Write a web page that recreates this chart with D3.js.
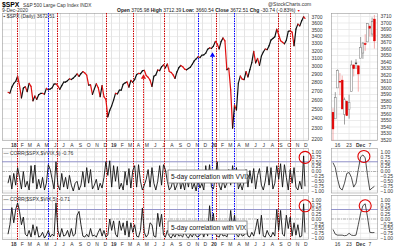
<!DOCTYPE html>
<html>
<head>
<meta charset="utf-8">
<script src="https://cdn.jsdelivr.net/npm/d3@7"></script>
<style>
  body { margin: 0; background: #fff; }
  svg { display: block; font-family: "Liberation Sans", Arial, sans-serif; }
</style>
</head>
<body>
<svg id="chart" width="400" height="249"></svg>
<script>
// ---- data ----
var weekStart = "2017-12-22";
var lastDate = "2020-12-09";

// weekly closes of $SPX, one per Friday from weekStart, last point is 9-Dec-2020
var spxWeekly = [
  2683, 2674,
  2743, 2786, 2810, 2873, 2762, 2620, 2732, 2747, 2691, 2786, 2752, 2588, 2641, 2604, 2656, 2670, 2670, 2663,
  2728, 2713, 2721, 2735, 2779, 2780, 2755, 2718, 2760, 2801, 2802, 2819, 2840, 2833, 2850, 2875, 2902, 2872,
  2905, 2930, 2914, 2886, 2767, 2768, 2659, 2723, 2781, 2736, 2633, 2760, 2633, 2600, 2417, 2486,
  2532, 2596, 2671, 2665, 2707, 2708, 2776, 2793, 2804, 2743, 2822, 2800, 2834, 2893, 2907, 2905, 2940, 2946,
  2881, 2860, 2826, 2752, 2873, 2887, 2950, 2942, 2990, 3014, 2977, 3026, 2932, 2919, 2889, 2847, 2926, 2979,
  3007, 2992, 2962, 2952, 2970, 2986, 3023, 3067, 3093, 3120, 3110, 3141, 3146, 3169, 3221, 3240,
  3235, 3265, 3330, 3295, 3226, 3328, 3380, 3338, 2954, 2972, 2711, 2305, 2541, 2489, 2790, 2875, 2837, 2831,
  2930, 2864, 2955, 3044, 3194, 3041, 3098, 3009, 3130, 3185, 3225, 3216, 3271, 3351, 3373, 3397, 3508, 3427,
  3341, 3319, 3298, 3348, 3477, 3484, 3465, 3270, 3510, 3585, 3558, 3638, 3699,
  3673
];

var corrVvixWeekly = [
  -0.6, -0.2, -0.9, -0.1, -0.7, 0.2, -0.3, -0.9, 0.0, -0.8, -0.5, -0.95, 0.3, -0.6, 0.33, -0.9, -0.4, -0.85, -0.3, -0.95,
  -0.6, 0.35, 0.1, -0.4, -0.9, 0.5, -0.7, -0.95, -0.1, -0.8, -0.3, -0.9, -0.2, -0.7, -1.0, -0.6, -0.5, -0.95, -0.7, 0.0,
  -0.8, 0.2, -0.6, 0.1, -0.9, -0.7, -0.4, -0.95, -0.6, -0.85, -0.3, 0.5, -0.2, 0.55, -0.8, 0.3, -0.5, 0.25, -0.9, -0.6,
  -0.95, 0.0, -0.7, 0.15, -0.85, 0.05, 0.3, -0.8, 0.35, -0.5, -0.95, -0.7, -0.4, 0.1, -0.8, 0.2, -0.6, -0.95, -0.5, 0.3,
  -0.7, 0.35, 0.1, -0.5, -0.95, -0.8, -0.4, -0.95, -0.7, -0.2, -0.9, -0.5, -0.95, -0.3, -0.8, -0.1, -0.9, -0.6, -1.0, -0.4,
  -0.85, -0.6, -0.95, 0.3, -0.5, 0.35, -0.8, -0.9, -0.3, 0.5, -0.7, -0.95, -0.4, -0.85, -0.6, 0.1, -0.7, 0.3, -0.5, 0.2,
  -0.9, -0.6, -0.95, -0.5, 0.1, -0.8, 0.05, -0.6, 0.15, -0.9, -0.2, 0.15, -0.7, -0.95, -0.5, 0.25, -0.7, 0.2, -0.9, -0.6,
  0.3, -0.4, 0.4, -0.8, 0.35, -0.3, -0.95, 0.1, -0.6, 0.2, -0.8, -0.95, -0.5, -0.9, 0.8, -0.76
];

var corrVixWeekly = [
  -0.8, -0.3, 0.6, -0.2, 0.5, 0.85, 0.4, -0.3, 0.1, -0.8, -0.9, -0.6, -0.95, -0.3, -0.85, -0.4, -0.95, -0.9, -0.7, -1.0,
  -0.85, -0.6, -0.95, -0.8, -0.9, 0.85, -0.6, -0.95, -0.5, -0.9, -0.85, -0.6, -0.95, -0.5, -0.9, -0.8, 0.2, 0.4, -0.3, -0.9,
  -0.95, -0.8, -0.95, -0.5, -0.9, -0.85, -0.95, -0.7, -0.5, -0.9, -0.6, -0.95, -0.85, 0.0, -0.6, -0.1, -0.8, -0.95, -0.1, -0.6,
  -0.2, -0.85, -0.1, -0.95, -0.2, -0.7, -0.3, -0.9, -0.95, -0.6, 0.58, -0.7, -0.95, -0.8, -0.2, -0.3, -0.9, -0.95, 0.3, -0.4,
  0.25, -0.85, -0.95, -0.6, -0.9, -1.0, -0.8, -0.95, -0.7, -0.9, -0.85, -0.95, -0.6, -0.9, -1.0, -0.8, -0.95, -0.7, -0.9, -0.95,
  -0.85, -0.6, -0.95, -0.5, -0.9, 0.7, -0.4, 0.3, -0.8, -0.9, -0.95, -0.7, -0.9, -0.85, -0.95, -0.6, 0.45, -0.5, 0.2, -0.8,
  -0.95, -0.7, -0.9, -0.85, -0.4, -0.9, -0.95, -0.7, -0.9, -0.5, 0.0, -0.8, 0.2, -0.9, -0.95, -0.6, -0.85, -0.95, -0.7, -0.9,
  0.5, -0.6, 0.45, -0.8, -0.9, 0.2, -0.5, 0.1, -0.9, -0.2, -0.85, -0.3, -0.95, -0.9, 0.8, -0.71
];

// daily candles of the small right hand panel
var dayDates = ["2020-11-12", "2020-11-13", "2020-11-16", "2020-11-17", "2020-11-18", "2020-11-19", "2020-11-20",
  "2020-11-23", "2020-11-24", "2020-11-25", "2020-11-27", "2020-11-30", "2020-12-01", "2020-12-02", "2020-12-03",
  "2020-12-04", "2020-12-07", "2020-12-08", "2020-12-09"];
var dayOpen  = [3562.67, 3552.57, 3600.16, 3610.31, 3612.09, 3559.41, 3579.31, 3566.82, 3594.52, 3635.50, 3638.55,
  3634.18, 3645.87, 3653.78, 3668.28, 3670.94, 3694.73, 3683.05, 3705.98];
var dayHigh  = [3569.02, 3593.66, 3628.51, 3623.11, 3619.09, 3585.22, 3581.23, 3589.81, 3642.31, 3635.50, 3644.31,
  3634.18, 3678.45, 3670.96, 3682.73, 3699.20, 3697.41, 3708.45, 3712.39];
var dayLow   = [3518.58, 3552.57, 3600.16, 3588.68, 3567.33, 3543.84, 3556.85, 3552.77, 3594.52, 3617.76, 3629.33,
  3594.39, 3645.87, 3644.84, 3657.17, 3670.94, 3678.88, 3678.83, 3660.54];
var dayClose = [3537.01, 3585.15, 3626.91, 3609.53, 3567.79, 3581.87, 3557.54, 3577.59, 3635.41, 3629.65, 3638.35,
  3621.63, 3662.45, 3669.01, 3666.72, 3699.12, 3691.96, 3702.25, 3672.51];
var corrVvixDaily = [0.45, 0.2, -0.4, -0.85, -0.95, -0.6, -0.1, -0.05, -0.3, -0.8, -0.6, 0.1, 0.75, 0.85, 0.7, -0.2, -0.95, -0.85, -0.76];
var corrVixDaily  = [-0.55, -0.8, -0.85, -0.85, -0.85, -0.88, -0.86, -0.75, -0.85, -0.87, -0.85, -0.3, 0.3, 0.7, 0.8, 0.1, -0.7, -0.72, -0.71];

var priceTicks = [3700, 3600, 3500, 3400, 3300, 3200, 3100, 3000, 2900, 2800, 2700, 2600, 2500, 2400, 2300, 2200];
var dayPriceTicks = [3710, 3700, 3690, 3680, 3670, 3660, 3650, 3640, 3630, 3620, 3610, 3600, 3590, 3580, 3570,
  3560, 3550, 3540, 3530, 3520];
var corrTicks = [1, 0.75, 0.5, 0.25, 0, -0.25, -0.5, -0.75, -1];
var monthLetters = ["J", "F", "M", "A", "M", "J", "J", "A", "S", "O", "N", "D"];
var dayTickDates = ["2020-11-16", "2020-11-23", "2020-12-01", "2020-12-07"];
var dayTickLabels = ["16", "23", "Dec", "7"];

// marked dates (dotted verticals) and arrows
var redLines = ["2018-01-25", "2018-06-20", "2018-12-14", "2019-03-22", "2019-07-15", "2020-01-21", "2020-09-03", "2020-10-16"];
var blueLines = ["2018-05-18", "2019-11-14", "2020-03-24"];
var redArrowDate = "2019-04-30";
var blueArrowDate = "2020-01-06";

// ---- layout ----
var parse = d3.timeParse("%Y-%m-%d");
var mainLeft = 2, mainRight = 309, sideLeft = 331, sideRight = 378;
var topPanel = {y0: 13, y1: 141};
var midPanel = {y0: 148, y1: 193.5};
var botPanel = {y0: 195, y1: 240};
var redCol = "#cc0000", blueCol = "#0000ff", gridCol = "#e4e4e4", borderCol = "#9a9a9a";

var svg = d3.select("#chart");

var weekDates = spxWeekly.map(function(d, i) {
  return i === spxWeekly.length - 1 ? parse(lastDate) : d3.timeDay.offset(parse(weekStart), 7 * i);
});

var x = d3.scaleTime()
  .domain([parse(weekStart), parse(lastDate)])
  .range([8, 305]);
var yPrice = d3.scaleLog().domain([2200, 3700]).range([139, 16.7]);
var yMid = d3.scaleLinear().domain([-1, 1]).range([191, 152]);
var yBot = d3.scaleLinear().domain([-1, 1]).range([238, 200]);

var xd = d3.scalePoint().domain(d3.range(dayDates.length)).range([333, 374.4]);
var yDay = d3.scaleLinear().domain([3520, 3710]).range([140, 16.5]);

var months = d3.timeMonth.range(new Date(2018, 0, 1), new Date(2020, 11, 2));

// ---- panel backgrounds, grids, borders ----
function drawPanel(p, yScale, ticks, fmt, sideScale, sideTicks, sideFmt) {
  var g = svg.append("g");
  // vertical month grid
  g.selectAll("line.vg").data(months).enter().append("line")
    .attr("x1", function(d) { return Math.round(x(d)) + 0.5; })
    .attr("x2", function(d) { return Math.round(x(d)) + 0.5; })
    .attr("y1", p.y0).attr("y2", p.y1)
    .attr("stroke", gridCol).attr("stroke-width", 1);
  // horizontal grid
  g.selectAll("line.hg").data(ticks).enter().append("line")
    .attr("x1", mainLeft).attr("x2", mainRight)
    .attr("y1", function(d) { return yScale(d); })
    .attr("y2", function(d) { return yScale(d); })
    .attr("stroke", gridCol).attr("stroke-width", 0.7);
  g.selectAll("text.yl").data(ticks).enter().append("text")
    .attr("x", mainRight + 2.5)
    .attr("y", function(d) { return yScale(d) + 1.8; })
    .attr("font-size", 5).attr("fill", "#333")
    .text(fmt);

  // side panel grid
  g.selectAll("line.svg").data(dayTickDates).enter().append("line")
    .attr("x1", function(d) { return xd(dayDates.indexOf(d)); })
    .attr("x2", function(d) { return xd(dayDates.indexOf(d)); })
    .attr("y1", p.y0).attr("y2", p.y1)
    .attr("stroke", gridCol).attr("stroke-width", 0.7);
  g.selectAll("line.shg").data(sideTicks).enter().append("line")
    .attr("x1", sideLeft).attr("x2", sideRight)
    .attr("y1", function(d) { return sideScale(d); })
    .attr("y2", function(d) { return sideScale(d); })
    .attr("stroke", gridCol).attr("stroke-width", 0.7);
  g.selectAll("text.syl").data(sideTicks).enter().append("text")
    .attr("x", sideRight + 2.5)
    .attr("y", function(d) { return sideScale(d) + 1.8; })
    .attr("font-size", 5).attr("fill", "#333")
    .text(sideFmt);

  g.append("rect").attr("x", mainLeft + 0.5).attr("y", p.y0 + 0.5)
    .attr("width", mainRight - mainLeft - 1).attr("height", p.y1 - p.y0 - 1)
    .attr("fill", "none").attr("stroke", borderCol).attr("stroke-width", 0.6);
  g.append("rect").attr("x", sideLeft + 0.5).attr("y", p.y0 + 0.5)
    .attr("width", sideRight - sideLeft - 1).attr("height", p.y1 - p.y0 - 1)
    .attr("fill", "none").attr("stroke", borderCol).attr("stroke-width", 0.6);
}

var corrFmt = function(d) { return d3.format(".2f")(d); };
drawPanel(topPanel, yPrice, priceTicks, function(d) { return d; }, yDay, dayPriceTicks, function(d) { return d; });
drawPanel(midPanel, yMid, corrTicks, corrFmt, yMid, corrTicks, corrFmt);
drawPanel(botPanel, yBot, corrTicks, corrFmt, yBot, corrTicks, corrFmt);

// reference lines in correlation panels: 0.5 (blue) and 0 (dashed)
[[midPanel, yMid], [botPanel, yBot]].forEach(function(pp) {
  [[mainLeft, mainRight], [sideLeft, sideRight]].forEach(function(xs) {
    svg.append("line").attr("x1", xs[0]).attr("x2", xs[1])
      .attr("y1", pp[1](0.5)).attr("y2", pp[1](0.5))
      .attr("stroke", "#8c8cc8").attr("stroke-width", 0.9);
    svg.append("line").attr("x1", xs[0]).attr("x2", xs[1])
      .attr("y1", pp[1](0)).attr("y2", pp[1](0))
      .attr("stroke", "#999").attr("stroke-width", 0.7).attr("stroke-dasharray", "3,1,1,1");
  });
});

// ---- x axis labels ----
function monthLabels(yPos) {
  svg.append("g").selectAll("text").data(months).enter().append("text")
    .attr("x", function(d) { return x(d) + 3; })
    .attr("y", yPos)
    .attr("text-anchor", "middle")
    .attr("font-size", 5)
    .attr("font-weight", function(d) { return d.getMonth() === 0 ? "bold" : "normal"; })
    .attr("fill", "#333")
    .text(function(d) { return d.getMonth() === 0 ? d3.timeFormat("%y")(d) : monthLetters[d.getMonth()]; });
  svg.append("g").selectAll("text").data(dayTickDates).enter().append("text")
    .attr("x", function(d) { return xd(dayDates.indexOf(d)); })
    .attr("y", yPos)
    .attr("text-anchor", "middle")
    .attr("font-size", 5)
    .attr("font-weight", function(d, i) { return dayTickLabels[i] === "Dec" ? "bold" : "normal"; })
    .attr("fill", "#333")
    .text(function(d, i) { return dayTickLabels[i]; });
}
monthLabels(146.5);
monthLabels(245.5);

// ---- dotted event lines ----
function eventLine(dateStr, col, yStart) {
  var ex = Math.round(x(parse(dateStr))) + 0.5;
  svg.append("line")
    .attr("x1", ex).attr("x2", ex)
    .attr("y1", Math.round(yStart)).attr("y2", botPanel.y1)
    .attr("stroke", col).attr("stroke-width", 1)
    .attr("stroke-dasharray", "1.5,1");
}
redLines.forEach(function(d) { eventLine(d, redCol, topPanel.y0); });
blueLines.forEach(function(d) { eventLine(d, blueCol, topPanel.y0); });

// ---- price line, coloured by weekly direction ----
var gPrice = svg.append("g");
for (var i = 1; i < spxWeekly.length; i++) {
  gPrice.append("line")
    .attr("x1", x(weekDates[i - 1])).attr("y1", yPrice(spxWeekly[i - 1]))
    .attr("x2", x(weekDates[i])).attr("y2", yPrice(spxWeekly[i]))
    .attr("stroke", spxWeekly[i] >= spxWeekly[i - 1] ? "#111" : "#e01010")
    .attr("stroke-width", 1.2)
    .attr("stroke-linecap", "round");
}

// arrows under the price line
function arrow(dateStr, col) {
  var d = parse(dateStr);
  var idx = d3.bisector(function(v) { return v; }).center(weekDates, d);
  var tipY = yPrice(spxWeekly[idx]) + 4;
  var ax = Math.round(x(d)) + 0.5;
  svg.append("path")
    .attr("d", "M" + ax + "," + tipY + "l2.6,4.4h-5.2z")
    .attr("fill", col);
  eventLine(dateStr, col, tipY + 4.4);
}
arrow(redArrowDate, "#e01010");
arrow(blueArrowDate, blueCol);

// ---- daily candles ----
var gCandle = svg.append("g");
dayDates.forEach(function(d, i) {
  var up = i === 0 ? dayClose[i] >= dayOpen[i] : dayClose[i] >= dayClose[i - 1];
  var col = up ? "#333" : "#e00000";
  var filled = dayClose[i] < dayOpen[i];
  var cx = xd(i);
  gCandle.append("line")
    .attr("x1", cx).attr("x2", cx)
    .attr("y1", yDay(dayHigh[i])).attr("y2", yDay(dayLow[i]))
    .attr("stroke", up ? "#777" : "#f08a8a").attr("stroke-width", 0.7);
  var top = yDay(Math.max(dayOpen[i], dayClose[i]));
  var bot = yDay(Math.min(dayOpen[i], dayClose[i]));
  gCandle.append("rect")
    .attr("x", cx - 0.9).attr("y", top)
    .attr("width", 1.8).attr("height", Math.max(0.8, bot - top))
    .attr("fill", filled ? col : "#fff")
    .attr("stroke", filled ? col : "#777").attr("stroke-width", 0.5);
});

// ---- correlation lines ----
function corrLine(values, yScale) {
  svg.append("path")
    .datum(values)
    .attr("fill", "none").attr("stroke", "#111").attr("stroke-width", 0.9)
    .attr("d", d3.line()
      .x(function(d, i) { return x(weekDates[i]); })
      .y(function(d) { return yScale(d); }));
}
function corrDayLine(values, yScale) {
  svg.append("path")
    .datum(values)
    .attr("fill", "none").attr("stroke", "#222").attr("stroke-width", 0.8)
    .attr("d", d3.line()
      .x(function(d, i) { return xd(i); })
      .y(function(d) { return yScale(d); }));
}
corrLine(corrVvixWeekly, yMid);
corrLine(corrVixWeekly, yBot);
corrDayLine(corrVvixDaily, yMid);
corrDayLine(corrVixDaily, yBot);

// red circles around the latest spikes
function ring(cx, cy) {
  svg.append("circle").attr("cx", cx).attr("cy", cy).attr("r", 6)
    .attr("fill", "none").attr("stroke", "#e00000").attr("stroke-width", 1.1);
}
var spikeW = spxWeekly.length - 2;
ring(x(weekDates[spikeW]) + 1.5, yMid(corrVvixWeekly[spikeW]) + 1.5);
ring(x(weekDates[spikeW]) + 1.5, yBot(corrVixWeekly[spikeW]) + 2);
ring(xd(13) + 1, yMid(corrVvixDaily[13]) + 1.5);
ring(xd(14), yBot(corrVixDaily[14]) + 2);

// text boxes
function noteBox(y0, label) {
  svg.append("rect").attr("x", 168).attr("y", y0).attr("width", 79).attr("height", 13)
    .attr("fill", "#fff").attr("stroke", "#777").attr("stroke-width", 0.8);
  svg.append("text").attr("x", 171).attr("y", y0 + 9)
    .attr("font-size", 6.6).attr("fill", "#111")
    .text(label);
}
noteBox(170, "5-day correlation with VVIX");
noteBox(221, "5-day correlation with VIX");

// ---- header and legends ----
svg.append("text").attr("x", 2).attr("y", 7.2)
  .attr("font-size", 6.8).attr("font-weight", "bold").text("$SPX");
svg.append("text").attr("x", 23).attr("y", 6.5)
  .attr("font-size", 4.8).attr("fill", "#333").text("S&P 500 Large Cap Index INDX");
svg.append("text").attr("x", 2).attr("y", 12.3)
  .attr("font-size", 5).attr("fill", "#333").text("9-Dec-2020");
svg.append("text").attr("x", 268).attr("y", 5.6)
  .attr("font-size", 5).attr("fill", "#333").text("@StockCharts.com");

var quote = svg.append("text").attr("x", 117).attr("y", 12.3).attr("font-size", 5).attr("fill", "#333");
[["Open ", true], ["3705.98 ", false], ["High ", true], ["3712.39 ", false], ["Low: ", true], ["3660.54 ", false],
 ["Close ", true], ["3672.51 ", false], ["Chg ", true], ["-30.74 (-0.83%) ", false], ["\u25BC", false]]
  .forEach(function(p) {
    quote.append("tspan").attr("font-weight", p[1] ? "bold" : "normal")
      .attr("fill", p[0] === "\u25BC" ? "#e00000" : "#222")
      .attr("font-size", p[0] === "\u25BC" ? 3.5 : 5)
      .text(p[0]);
  });

svg.append("text").attr("x", 3.5).attr("y", 18.2).attr("font-size", 5).attr("fill", "#333")
  .text("\u25AA $SPX (Daily) 3672.51");
svg.append("text").attr("x", 3.5).attr("y", 154.5).attr("font-size", 5).attr("fill", "#333")
  .text("\u2014 CORR($SPX,$VVIX,5) -0.76");
svg.append("text").attr("x", 3.5).attr("y", 201).attr("font-size", 5).attr("fill", "#333")
  .text("\u2014 CORR($SPX,$VIX,5) -0.71");
</script>
</body>
</html>
